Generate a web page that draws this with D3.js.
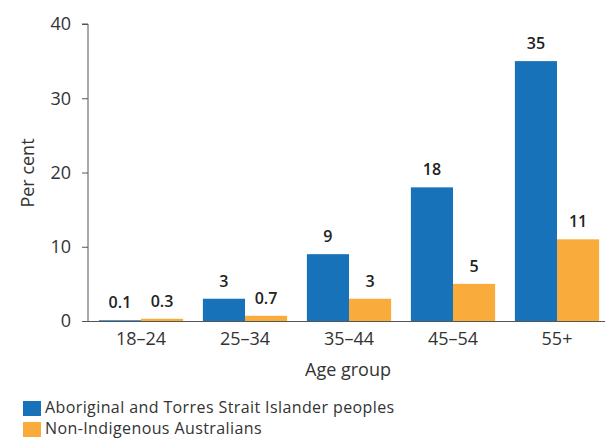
<!DOCTYPE html>
<html><head><meta charset="utf-8">
<script src="https://cdn.jsdelivr.net/npm/d3@7"></script>
<style>body{margin:0;background:#fff}svg{display:block;font-family:"Open Sans",sans-serif}</style>
</head><body><svg id="c" width="605" height="439"></svg>
<script>
const categories = ["18–24","25–34","35–44","45–54","55+"];
const indigenous = [0.1, 3, 9, 18, 35];
const nonIndigenous = [0.3, 0.7, 3, 5, 11];
const seriesNames = ["Aboriginal and Torres Strait Islander peoples","Non-Indigenous Australians"];
const yTicks = [0,10,20,30,40];
const colors = ["#1872b9","#f9ac3b"];

(function(){
const svg = d3.select("#c");
const mLeft = 89, mRight = 609, mTop = 24, mBottom = 321;
const x0 = d3.scaleBand().domain(categories).range([mLeft, mRight]).paddingInner(0.19).paddingOuter(0.095);
const x1 = d3.scaleBand().domain([0,1]).range([0, x0.bandwidth()]);
const y = d3.scaleLinear().domain([0,40]).range([mBottom, mTop]);

const data = categories.map((c,i)=>({c, v:[indigenous[i], nonIndigenous[i]]}));

const g = svg.append("g");
data.forEach(d=>{
  d.v.forEach((v,k)=>{
    g.append("rect").attr("x", x0(d.c)+x1(k)).attr("width", x1.bandwidth())
      .attr("y", y(v)).attr("height", mBottom - y(v)).attr("fill", colors[k]);
    g.append("text").attr("x", x0(d.c)+x1(k)+x1.bandwidth()/2).attr("y", y(v)-12)
      .attr("text-anchor","middle").attr("font-size",16).attr("font-weight",600).attr("fill","#222")
      .text(v);
  });
});

const ya = svg.append("g").attr("transform",`translate(${mLeft-1},0)`)
  .call(d3.axisLeft(y).tickValues(yTicks).tickSize(6).tickPadding(11));
ya.select(".domain").attr("stroke","#555").attr("d",`M-6,${mTop}H0V${mBottom}`);
ya.selectAll(".tick line").attr("stroke","#555");
ya.selectAll(".tick text").attr("font-size",18).attr("fill","#333").attr("font-family","Open Sans");

const xa = svg.append("g").attr("transform",`translate(0,${mBottom})`)
  .call(d3.axisBottom(x0).tickSize(0).tickPadding(11));
xa.select(".domain").attr("stroke","#555").attr("d",`M${mLeft-7},0.5H605`);
xa.selectAll(".tick text").attr("font-size",18).attr("fill","#333").attr("font-family","Open Sans");

svg.append("text").attr("x",348).attr("y",376).attr("text-anchor","middle")
  .attr("font-size",18).attr("fill","#333").text("Age group");
svg.append("text").attr("transform","translate(34,173) rotate(-90)").attr("text-anchor","middle")
  .attr("font-size",18).attr("fill","#333").text("Per cent");

seriesNames.forEach((n,k)=>{
  const base = 413 + k*21;
  svg.append("rect").attr("x",23).attr("y",base-12).attr("width",18).attr("height",15).attr("fill",colors[k]);
  svg.append("text").attr("x",45).attr("y",base).attr("font-size",16).attr("letter-spacing",0.4)
    .attr("fill","#333").text(n);
});
})();
</script></body></html>
